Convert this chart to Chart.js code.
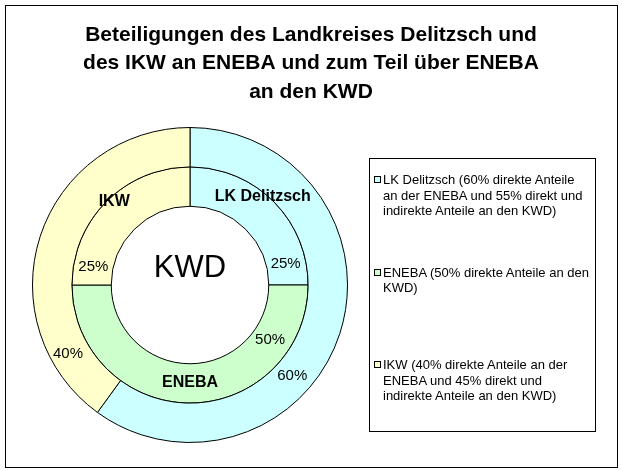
<!DOCTYPE html>
<html>
<head>
<meta charset="utf-8">
<script src="https://cdn.jsdelivr.net/npm/chart.js@4.4.0/dist/chart.umd.min.js"></script>
<style>
  body { margin: 0; background: #fff; font-family: "Liberation Sans", Arial, sans-serif; }
  #wrap { position: relative; width: 622px; height: 471px; }
  #frame { position: absolute; left: 5px; top: 5px; width: 611px; height: 461px; border: 1px solid #000; }
  #chart { position: absolute; left: 0; top: 0; }
  #legend { position: absolute; left: 369px; top: 158px; width: 225px; height: 272px;
            border: 1px solid #000; font-size: 13px; line-height: 15.5px; color: #000; }
  .item { position: absolute; left: 0; width: 225px; }
  .swatch { position: absolute; left: 4px; top: 4px; width: 5px; height: 5px; border: 1px solid #000; }
  .text { position: absolute; left: 13px; white-space: nowrap; }
</style>
</head>
<body>
<div id="wrap">
  <div id="frame"></div>
  <canvas id="chart" width="622" height="471"></canvas>
  <div id="legend"></div>
</div>
<script>
// data
const categories = [
  ["LK Delitzsch (60% direkte Anteile", "an der ENEBA und 55% direkt und", "indirekte Anteile an den KWD)"],
  ["ENEBA (50% direkte Anteile an den", "KWD)"],
  ["IKW (40% direkte Anteile an der", "ENEBA und 45% direkt und", "indirekte Anteile an den KWD)"]
];
const shortNames = ["LK Delitzsch", "ENEBA", "IKW"];
const outerValues = [60, 0, 40];   // Anteile an der ENEBA
const innerValues = [25, 50, 25];  // Anteile am KWD
const centerLabel = "KWD";
const titleLines = [
  "Beteiligungen des Landkreises Delitzsch und",
  "des IKW an ENEBA und zum Teil über ENEBA",
  "an den KWD"
];

const colors = ["#CCFFFF", "#CCFFCC", "#FFFFCC"];

// where the texts sit inside each arc: [fraction along arc, fraction across ring]
const outerPctPlace = [[0.61, 0.48], null, [0.17, 0.56]];
const innerPctPlace = [[0.86, 0.49], [0.19, 0.46], [0.12, 0.50]];
const innerNamePlace = [[0.44, 0.90], [0.5, 0.48], [0.53, 0.86]];

function arcPoint(arc, place) {
  const p = arc.getProps(["x", "y", "startAngle", "endAngle", "innerRadius", "outerRadius"], true);
  const a = p.startAngle + (p.endAngle - p.startAngle) * place[0];
  const r = p.innerRadius + (p.outerRadius - p.innerRadius) * place[1];
  return { x: p.x + Math.cos(a) * r, y: p.y + Math.sin(a) * r };
}

const ringLabels = {
  id: "ringLabels",
  afterDatasetsDraw(chart) {
    const ctx = chart.ctx;
    ctx.save();
    ctx.fillStyle = "#000";
    ctx.textAlign = "center";
    ctx.textBaseline = "middle";

    const outer = chart.getDatasetMeta(0).data;
    const inner = chart.getDatasetMeta(1).data;

    ctx.font = '15px "Liberation Sans", Arial, sans-serif';
    outer.forEach((arc, i) => {
      if (!outerPctPlace[i]) return;
      const pt = arcPoint(arc, outerPctPlace[i]);
      ctx.fillText(outerValues[i] + "%", pt.x, pt.y);
    });
    inner.forEach((arc, i) => {
      const pt = arcPoint(arc, innerPctPlace[i]);
      ctx.fillText(innerValues[i] + "%", pt.x, pt.y);
    });

    ctx.font = 'bold 16px "Liberation Sans", Arial, sans-serif';
    inner.forEach((arc, i) => {
      const pt = arcPoint(arc, innerNamePlace[i]);
      ctx.fillText(shortNames[i], pt.x, pt.y);
    });

    // centre text
    ctx.font = '31px "Liberation Sans", Arial, sans-serif';
    ctx.fillText(centerLabel, inner[0].x, inner[0].y - 17);
    ctx.restore();
  }
};

const titlePlugin = {
  id: "titleLines",
  afterDraw(chart) {
    const ctx = chart.ctx;
    ctx.save();
    ctx.fillStyle = "#000";
    ctx.textAlign = "center";
    ctx.textBaseline = "middle";
    ctx.font = 'bold 21px "Liberation Sans", Arial, sans-serif';
    titleLines.forEach((line, i) => {
      ctx.fillText(line, 311, 35 + i * 28.5);
    });
    ctx.restore();
  }
};

const chart = new Chart(document.getElementById("chart"), {
  type: "doughnut",
  data: {
    labels: categories,
    datasets: [
      {
        data: outerValues,
        backgroundColor: colors,
        borderColor: "#000",
        borderWidth: 1,
        hoverOffset: 0
      },
      {
        data: innerValues,
        backgroundColor: colors,
        borderColor: "#000",
        borderWidth: 1,
        hoverOffset: 0
      }
    ]
  },
  options: {
    responsive: false,
    animation: false,
    cutout: "50%",
    layout: {
      padding: { left: 32, right: 274, top: 127, bottom: 28 }
    },
    plugins: {
      legend: { display: false },
      title: { display: false },
      tooltip: { enabled: false }
    }
  },
  plugins: [ringLabels, titlePlugin]
});

// html legend built from the chart's own legend items
const legendEl = document.getElementById("legend");
const items = Chart.overrides.doughnut.plugins.legend.labels.generateLabels(chart);
items.forEach((it, i) => {
  const div = document.createElement("div");
  div.className = "item";
  div.style.top = (13 + i * 92.5) + "px";
  const sw = document.createElement("span");
  sw.className = "swatch";
  sw.style.background = it.fillStyle;
  div.appendChild(sw);
  const tx = document.createElement("span");
  tx.className = "text";
  tx.innerHTML = categories[i].join("<br>");
  div.appendChild(tx);
  legendEl.appendChild(div);
});
</script>
</body>
</html>
